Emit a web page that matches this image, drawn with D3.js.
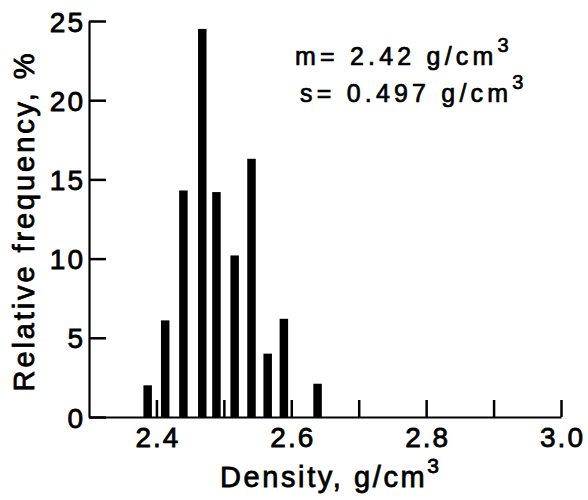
<!DOCTYPE html>
<html>
<head>
<meta charset="utf-8">
<script src="https://cdn.jsdelivr.net/npm/d3@7"></script>
<style>
  body { margin: 0; background: #fff; }
  text { font-family: "Liberation Sans", Arial, sans-serif; fill: #000; }
</style>
</head>
<body>
<div id="chart"></div>
<script>
// bin centres (g/cm3) and relative frequency (%)
const densities = [2.387, 2.413, 2.440, 2.468, 2.489, 2.516, 2.541, 2.565, 2.589, 2.639];
const frequencies = [2.0, 6.1, 14.3, 24.5, 14.2, 10.2, 16.3, 4.0, 6.2, 2.1];

const xTicks = [2.4, 2.5, 2.6, 2.7, 2.8, 2.9, 3.0];
const xTickLabels = [2.4, 2.6, 2.8, 3.0];
const yTicks = [0, 5, 10, 15, 20, 25];

const stats = [
  { name: 'm', value: '2.42' },
  { name: 's', value: '0.497' }
];

const width = 588;
const height = 500;

const x = d3.scaleLinear().domain([2.3, 3.0]).range([89, 561]);
const y = d3.scaleLinear().domain([0, 25]).range([417, 21]);
const barWidth = x(2.3126) - x(2.3);

const svg = d3.select('#chart')
  .append('svg')
  .attr('width', width)
  .attr('height', height);

// bars
svg.append('g')
  .selectAll('rect')
  .data(densities)
  .enter().append('rect')
  .attr('x', (d) => x(d) - barWidth / 2)
  .attr('y', (d, i) => y(frequencies[i]))
  .attr('width', barWidth)
  .attr('height', (d, i) => y(0) - y(frequencies[i]))
  .attr('fill', '#000');

// x axis: ticks point up into the plot
const xAxis = svg.append('g')
  .attr('transform', `translate(0,${y(0)})`)
  .call(d3.axisBottom(x)
    .tickValues(xTicks)
    .tickSizeInner(-17)
    .tickSizeOuter(0)
    .tickFormat((d) => xTickLabels.includes(d) ? d3.format('.1f')(d) : ''));

xAxis.select('.domain').attr('stroke-width', 2.2);
xAxis.selectAll('.tick line').attr('stroke-width', 2.5);
xAxis.selectAll('.tick text')
  .attr('y', 30)
  .attr('dy', 0)
  .attr('dx', 1)
  .style('font-size', '28px')
  .style('letter-spacing', '2px')
  .attr('stroke', '#000')
  .attr('stroke-width', 0.8);

// y axis: ticks point right
const yAxis = svg.append('g')
  .attr('transform', `translate(${x(2.3)},0)`)
  .call(d3.axisLeft(y)
    .tickValues(yTicks)
    .tickSizeInner(-17)
    .tickSizeOuter(0)
    .tickFormat(d3.format('d')));

yAxis.select('.domain').attr('stroke-width', 2.2);
yAxis.selectAll('.tick line').attr('stroke-width', 2.5);
yAxis.selectAll('.tick text')
  .attr('x', -4)
  .attr('dy', '0.36em')
  .style('font-size', '28px')
  .style('letter-spacing', '2px')
  .attr('stroke', '#000')
  .attr('stroke-width', 0.8);

// axis titles
const xTitle = svg.append('text')
  .attr('x', 220)
  .attr('y', 487)
  .style('font-size', '29px')
  .style('letter-spacing', '2.6px')
  .attr('stroke', '#000')
  .attr('stroke-width', 0.8);
xTitle.append('tspan').text('Density, g/cm');
xTitle.append('tspan')
  .attr('dy', -14)
  .style('font-size', '21px')
  .text('3');

svg.append('text')
  .attr('transform', 'translate(34,221) rotate(-90)')
  .attr('text-anchor', 'middle')
  .style('font-size', '29px')
  .style('letter-spacing', '2.9px')
  .attr('stroke', '#000')
  .attr('stroke-width', 0.8)
  .text('Relative frequency, %');

// mean / std annotation
const note = svg.append('g')
  .selectAll('text')
  .data(stats)
  .enter().append('text')
  .attr('x', (d, i) => i === 0 ? 295 : 300)
  .attr('y', (d, i) => 65 + i * 37)
  .style('font-size', '25px')
  .style('letter-spacing', '4.2px')
  .attr('stroke', '#000')
  .attr('stroke-width', 0.7);

note.append('tspan').text((d) => `${d.name}= ${d.value} g/cm`);
note.append('tspan')
  .attr('dy', -13)
  .style('font-size', '20px')
  .style('letter-spacing', '0px')
  .text('3');
</script>
</body>
</html>
